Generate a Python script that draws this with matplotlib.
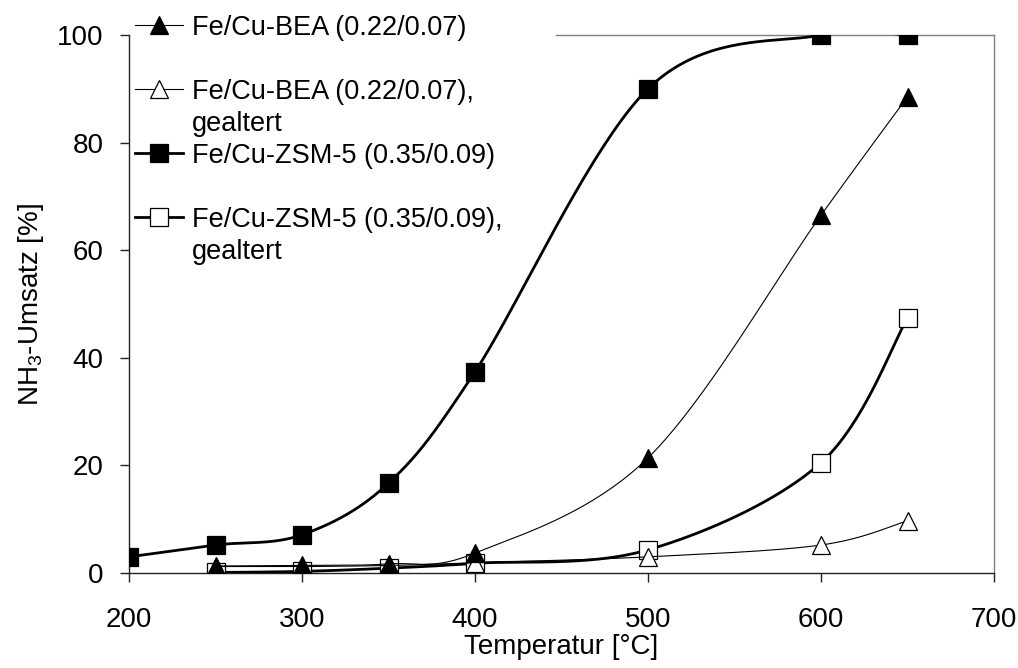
import numpy as np
import matplotlib
matplotlib.use("Agg")
import matplotlib.pyplot as plt
from matplotlib.lines import Line2D

plt.rcParams["font.family"] = ["Liberation Sans", "DejaVu Sans"]
plt.rcParams["mathtext.fontset"] = "custom"
plt.rcParams["mathtext.rm"] = "Liberation Sans"

# Temperatures [°C] and NH3 conversion [%]
temp_bea = [250, 300, 350, 400, 500, 600, 650]
conv_bea = [1.3, 1.4, 1.7, 3.7, 21.4, 66.5, 88.5]
conv_bea_aged = [1.2, 1.2, 1.4, 1.9, 3.0, 5.2, 9.7]

temp_zsm = [200, 250, 300, 350, 400, 500, 600, 650]
conv_zsm = [3.0, 5.2, 7.1, 16.7, 37.4, 90.0, 100.0, 100.0]
temp_zsm_aged = [250, 300, 350, 400, 500, 600, 650]
conv_zsm_aged = [0.1, 0.3, 0.9, 1.8, 4.3, 20.5, 47.4]

labels = [
    "Fe/Cu-BEA (0.22/0.07)",
    "Fe/Cu-BEA (0.22/0.07),",
    "Fe/Cu-ZSM-5 (0.35/0.09)",
    "Fe/Cu-ZSM-5 (0.35/0.09),",
]
aged_suffix = "gealtert"

x_ticks = [200, 300, 400, 500, 600, 700]
y_ticks = [0, 20, 40, 60, 80, 100]


def smooth(x, y, n=40):
    """Cardinal (Catmull-Rom) Bezier smoothing through all points."""
    p = np.column_stack([x, y]).astype(float)
    pts = []
    for i in range(len(p) - 1):
        p0 = p[i - 1] if i > 0 else p[i]
        p1, p2 = p[i], p[i + 1]
        p3 = p[i + 2] if i + 2 < len(p) else p[i + 1]
        c1 = p1 + (p2 - p0) / 6.0
        c2 = p2 - (p3 - p1) / 6.0
        t = np.linspace(0, 1, n, endpoint=(i == len(p) - 2))[:, None]
        seg = ((1 - t) ** 3) * p1 + 3 * ((1 - t) ** 2) * t * c1 \
            + 3 * (1 - t) * t ** 2 * c2 + t ** 3 * p2
        pts.append(seg)
    pts = np.vstack(pts)
    return pts[:, 0], pts[:, 1]


fig = plt.figure(figsize=(10.18, 6.68), dpi=100)
ax = fig.add_axes([129 / 1018, 1 - 573 / 668, (994 - 129) / 1018, (573 - 35) / 668])

ms = 13
thin = 0.8
thick = 2.0

series = [
    # x, y, marker, face, linewidth, zorder
    (temp_bea, conv_bea, "^", "black", thin, 6),
    (temp_bea, conv_bea_aged, "^", "white", thin, 4),
    (temp_zsm, conv_zsm, "s", "black", thick, 5),
    (temp_zsm_aged, conv_zsm_aged, "s", "white", thick, 3),
]

handles = []
for x, y, mk, fc, lw, z in series:
    sx, sy = smooth(x, y)
    ax.plot(sx, sy, color="black", lw=lw, zorder=z, solid_capstyle="round")
    ax.plot(x, y, linestyle="none", marker=mk, markersize=ms,
            markerfacecolor=fc, markeredgecolor="black", markeredgewidth=0.9,
            zorder=z + 0.5)
    handles.append(Line2D([], [], color="black", lw=lw, marker=mk, markersize=ms,
                          markerfacecolor=fc, markeredgecolor="black",
                          markeredgewidth=0.9))

blank = Line2D([], [], linestyle="none", marker="none")
leg_handles = [handles[0], blank, handles[1], blank,
               handles[2], blank, handles[3], blank]
leg_labels = [labels[0], " ", labels[1], aged_suffix,
              labels[2], " ", labels[3], aged_suffix]

fig.legend(leg_handles, leg_labels, loc="upper left",
           bbox_to_anchor=(130 / 1018, 1 - 10 / 668),
           frameon=False, fontsize=19.5, handlelength=1.77, handletextpad=0.33,
           labelspacing=0.22, borderpad=0.18, borderaxespad=0)

ax.set_xlim(200, 700)
ax.set_ylim(0, 100)
ax.set_xticks(x_ticks)
ax.set_yticks(y_ticks)
ax.tick_params(axis="both", direction="out", length=6.5, width=1, colors="#222222",
               labelsize=20, labelcolor="black")
ax.tick_params(axis="y", pad=12)
ax.tick_params(axis="x", pad=18)

for side in ("left", "bottom"):
    ax.spines[side].set_color("#222222")
    ax.spines[side].set_linewidth(1)
for side in ("top", "right"):
    ax.spines[side].set_color("#808080")
    ax.spines[side].set_linewidth(1)
ax.spines["top"].set_bounds(447, 700)

ax.set_xlabel("Temperatur [°C]", fontsize=20, labelpad=1)
ax.set_ylabel(r"NH$_\mathregular{3}$-Umsatz [%]", fontsize=20, labelpad=8)

fig.savefig("out.png", dpi=100)
